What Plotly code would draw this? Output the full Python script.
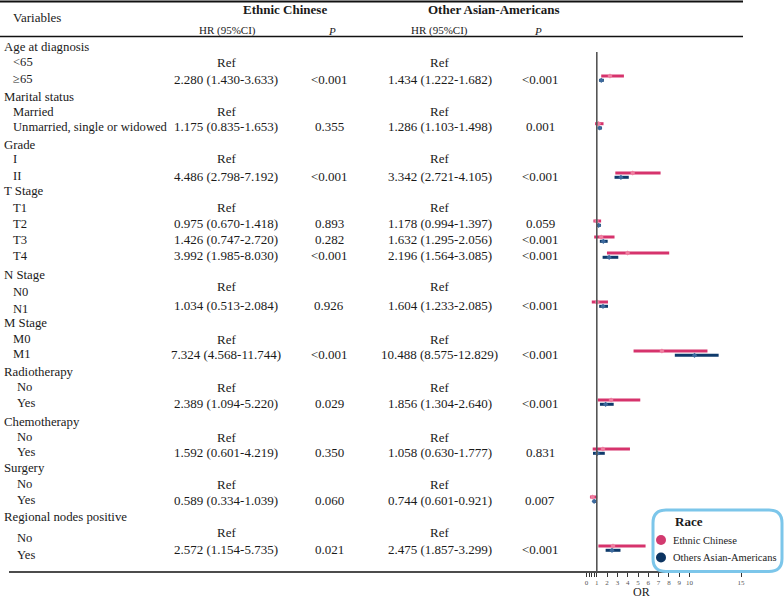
import plotly.graph_objects as go

W, H = 784, 598

# ---------------- data ----------------
row_labels = ["Age at diagnosis", "<65", "≥65",
              "Marital status", "Married", "Unmarried, single or widowed",
              "Grade", "I", "II",
              "T Stage", "T1", "T2", "T3", "T4",
              "N Stage", "N0", "N1",
              "M Stage", "M0", "M1",
              "Radiotherapy", "No", "Yes",
              "Chemotherapy", "No", "Yes",
              "Surgery", "No", "Yes",
              "Regional nodes positive", "No", "Yes"]
row_kind = ["h", "r", "v",
            "h", "r", "v",
            "h", "r", "v",
            "h", "r", "v", "v", "v",
            "h", "r", "v",
            "h", "r", "v",
            "h", "r", "v",
            "h", "r", "v",
            "h", "r", "v",
            "h", "r", "v"]

# Ethnic Chinese
ec_hr = [2.280, 1.175, 4.486, 0.975, 1.426, 3.992, 1.034, 7.324, 2.389, 1.592, 0.589, 2.572]
ec_lo = [1.430, 0.835, 2.798, 0.670, 0.747, 1.985, 0.513, 4.568, 1.094, 0.601, 0.334, 1.154]
ec_hi = [3.633, 1.653, 7.192, 1.418, 2.720, 8.030, 2.084, 11.744, 5.220, 4.219, 1.039, 5.735]
ec_p = ["<0.001", "0.355", "<0.001", "0.893", "0.282", "<0.001", "0.926", "<0.001",
        "0.029", "0.350", "0.060", "0.021"]

# Other Asian-Americans
oa_hr = [1.434, 1.286, 3.342, 1.178, 1.632, 2.196, 1.604, 10.488, 1.856, 1.058, 0.744, 2.475]
oa_lo = [1.222, 1.103, 2.721, 0.994, 1.295, 1.564, 1.233, 8.575, 1.304, 0.630, 0.601, 1.857]
oa_hi = [1.682, 1.498, 4.105, 1.397, 2.056, 3.085, 2.085, 12.829, 2.640, 1.777, 0.921, 3.299]
oa_p = ["<0.001", "0.001", "<0.001", "0.059", "<0.001", "<0.001", "<0.001", "<0.001",
        "<0.001", "0.831", "0.007", "<0.001"]

tick_vals = [0, 0.25, 0.5, 0.75, 1, 2, 3, 4, 5, 6, 7, 8, 9, 10, 15]
tick_text = ["0", "", "", "", "1", "2", "3", "4", "5", "6", "7", "8", "9", "10", "15"]

group_names = ["Ethnic Chinese", "Others Asian-Americans"]

# ---------------- layout constants (pixels) ----------------
label_y = [47, 62, 79, 97, 111.7, 126.7, 145, 159, 176, 191, 207.7, 224, 240, 256,
           275, 291.7, 309, 323, 339, 354, 372, 387, 403, 422, 437, 452,
           468, 484, 500, 516.7, 538, 555]
value_y = list(label_y)
value_y[15], value_y[16] = 286.5, 305
value_y[30], value_y[31] = 532, 549

PINK = "#D6336C"
NAVY = "#0E3A6B"
FONT = "Liberation Serif"
TXT = "#1a1a1a"

X0_PX, PX_PER = 586.5, 10.3


def px(x):
    return x / W


def py(y):
    return 1 - y / H


fig = go.Figure()
ann = []


def text(x, y, s, size=13, anchor="center", bold=False, color=TXT):
    if bold:
        s = "<b>" + s + "</b>"
    ann.append(dict(x=px(x), y=py(y), xref="paper", yref="paper", text=s,
                    showarrow=False, xanchor=anchor, yanchor="middle",
                    font=dict(family=FONT, size=size, color=color)))


# headers
text(11, 18, "Variables", 13, "left")
text(285, 10, "Ethnic Chinese", 13, bold=True)
text(494, 10, "Other Asian-Americans", 13, bold=True)
text(227, 31, "HR (95%CI)", 11)
text(332, 31, "<i>P</i>", 11)
text(440, 31, "HR (95%CI)", 11)
text(538, 31, "<i>P</i>", 11)

# rows
bar_y = []
vi = 0
for i, (lab, kind) in enumerate(zip(row_labels, row_kind)):
    if kind == "h":
        text(2, label_y[i], lab, 12.8, "left")
    else:
        indent = 15 if i >= 20 else 11
        text(indent, label_y[i], lab, 12.6, "left")
        if kind == "r":
            text(226, value_y[i], "Ref", 13)
            text(440, value_y[i], "Ref", 13)
        else:
            text(226, value_y[i], f"{ec_hr[vi]:.3f} ({ec_lo[vi]:.3f}-{ec_hi[vi]:.3f})", 13)
            text(329, value_y[i], ec_p[vi], 13)
            text(440, value_y[i], f"{oa_hr[vi]:.3f} ({oa_lo[vi]:.3f}-{oa_hi[vi]:.3f})", 13)
            text(540, value_y[i], oa_p[vi], 13)
            bar_y.append(value_y[i])
            vi += 1

# forest bars
for hr, lo, hi, dy, col, mcol in [(ec_hr, ec_lo, ec_hi, -3.0, PINK, "#F07D9F"),
                                  (oa_hr, oa_lo, oa_hi, 1.3, NAVY, "#3D6A9E")]:
    fig.add_trace(go.Scatter(
        x=hr, y=[v + dy for v in bar_y], mode="markers",
        marker=dict(size=4, color=mcol, symbol="diamond"),
        error_x=dict(type="data", symmetric=False,
                     array=[h - m for h, m in zip(hi, hr)],
                     arrayminus=[m - l for m, l in zip(hr, lo)],
                     color=col, thickness=3, width=0),
        showlegend=False, hoverinfo="skip"))

shapes = []
# table lines
shapes.append(dict(type="line", xref="paper", yref="paper", x0=px(0), x1=px(743),
                   y0=py(1.5), y1=py(1.5), line=dict(color="#111", width=2)))
shapes.append(dict(type="line", xref="paper", yref="paper", x0=px(0), x1=px(743),
                   y0=py(36.5), y1=py(36.5), line=dict(color="#111", width=1.6)))
shapes.append(dict(type="line", xref="paper", yref="paper", x0=px(9), x1=px(746),
                   y0=py(572), y1=py(572), line=dict(color="#111", width=1.6)))
# reference line at 1
shapes.append(dict(type="line", xref="x", yref="paper", x0=1, x1=1,
                   y0=py(52), y1=py(572), line=dict(color="#555", width=1.6),
                   layer="above"))

# legend box (rounded)
lx0, ly0, lx1, ly1, r = 653, 510, 782, 571.5, 13


def P(x, y):
    return f"{px(x)},{py(y)}"


path = (f"M {P(lx0 + r, ly0)} L {P(lx1 - r, ly0)} Q {P(lx1, ly0)} {P(lx1, ly0 + r)} "
        f"L {P(lx1, ly1 - r)} Q {P(lx1, ly1)} {P(lx1 - r, ly1)} "
        f"L {P(lx0 + r, ly1)} Q {P(lx0, ly1)} {P(lx0, ly1 - r)} "
        f"L {P(lx0, ly0 + r)} Q {P(lx0, ly0)} {P(lx0 + r, ly0)} Z")
shapes.append(dict(type="path", xref="paper", yref="paper", path=path,
                   line=dict(color="#7CC6EA", width=3), fillcolor="white", layer="above"))
for cy, col in [(540, "#D23A6F"), (557.5, "#0C3461")]:
    shapes.append(dict(type="circle", xref="paper", yref="paper",
                       x0=px(656), x1=px(666), y0=py(cy - 5), y1=py(cy + 5),
                       line=dict(width=0), fillcolor=col, layer="above"))
text(689, 521, "Race", 13, bold=True)
text(671, 540, group_names[0], 10.5, "left")
text(671, 557.5, group_names[1], 10.5, "left")

# axis title
text(641, 591.5, "OR", 12)

fig.update_layout(
    width=W, height=H, autosize=False,
    margin=dict(l=0, r=0, t=0, b=0),
    paper_bgcolor="white", plot_bgcolor="white",
    shapes=shapes, annotations=ann,
    showlegend=False,
    xaxis=dict(domain=[0, 1],
               range=[-X0_PX / PX_PER, (W - X0_PX) / PX_PER],
               tickvals=tick_vals, ticktext=tick_text,
               ticks="outside", ticklen=4, tickwidth=1, tickcolor="#333",
               tickfont=dict(family=FONT, size=7, color="#555"),
               showgrid=False, zeroline=False, showline=False),
    yaxis=dict(domain=[26 / H, 1], range=[572, 0], visible=False,
               showgrid=False, zeroline=False),
)

fig.write_html("out.html", config={"displayModeBar": False},
               post_script="document.body.style.margin='0px';document.body.style.overflow='hidden';")
